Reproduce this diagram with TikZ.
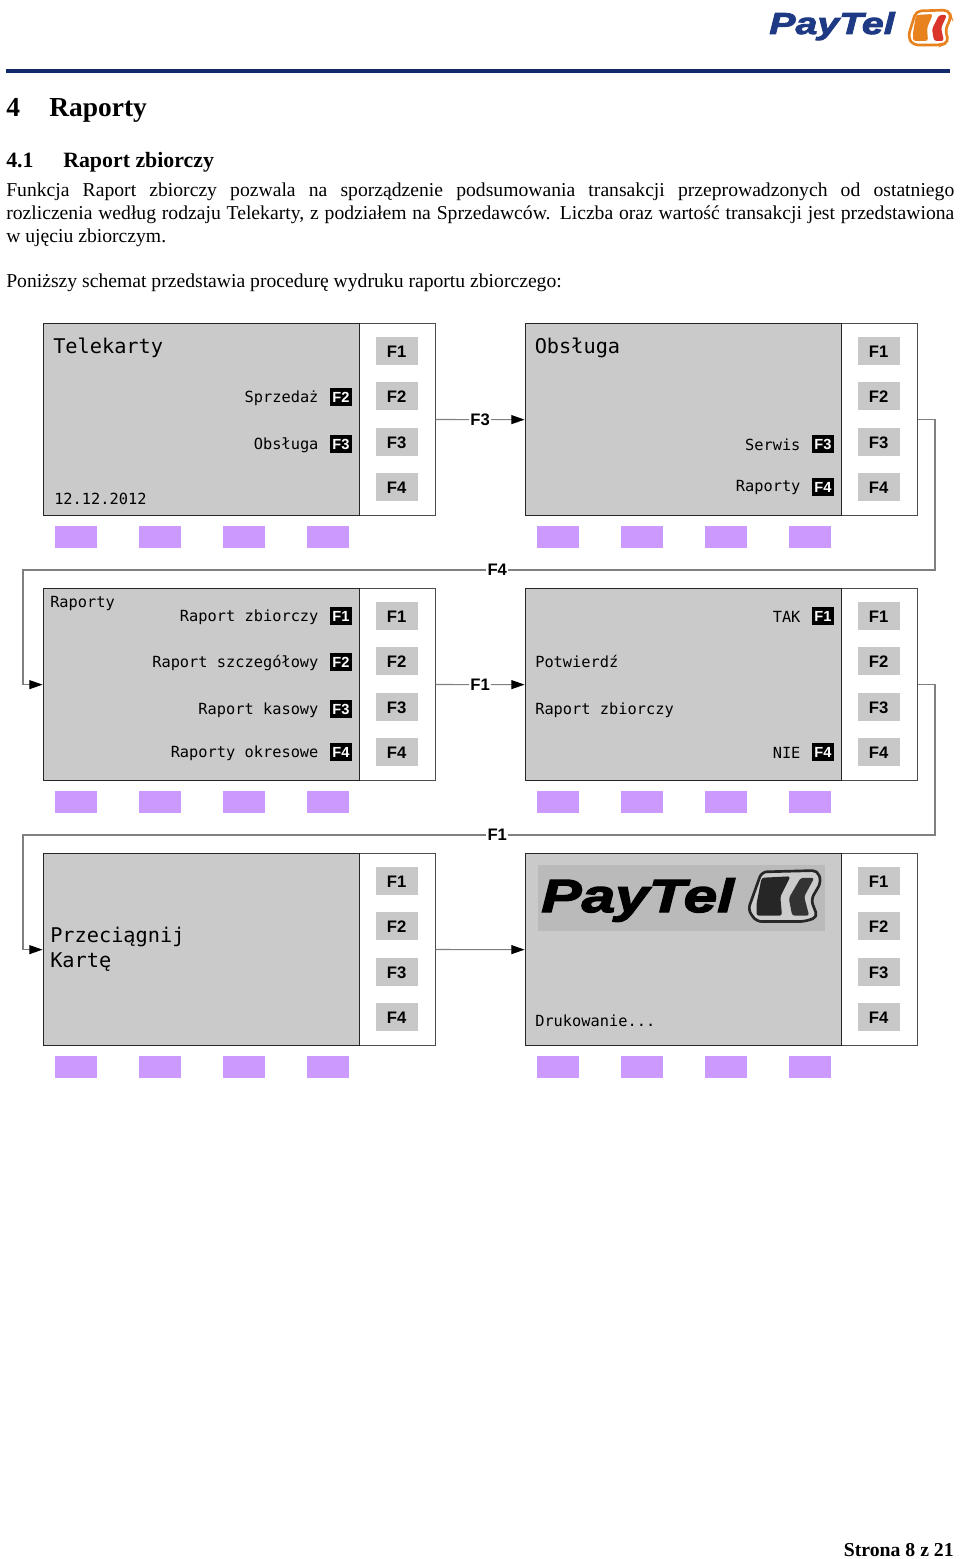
\documentclass[tikz,border=0pt]{standalone}
\usepackage{fontspec}
\setmainfont{Liberation Serif}
\setsansfont{Liberation Sans}
\setmonofont{DejaVu Sans Mono}
\newfontfamily\logofont[FakeBold=3,FakeStretch=1.3]{Liberation Sans}
\usetikzlibrary{positioning,arrows.meta}
\usepackage{xcolor}
\definecolor{navyrule}{HTML}{12296B}
\definecolor{screengray}{HTML}{CACACA}
\definecolor{buttongray}{HTML}{C8C8C8}
\definecolor{padlilac}{HTML}{CC99FF}
\definecolor{logoblue}{HTML}{1F3A85}
\definecolor{logoorange}{HTML}{E8821E}
\definecolor{logored}{HTML}{D9352A}
\tikzset{
  framebox/.style={draw=black!70,line width=.8pt,fill=white,anchor=north west,minimum width=294pt,minimum height=144.25pt,inner sep=0pt},
  screenbox/.style={draw=black!85,line width=1pt,fill=screengray,anchor=north west,minimum width=237pt,minimum height=144.25pt,inner sep=0pt},
  fbutton/.style={fill=buttongray,minimum width=31.5pt,minimum height=21pt,inner sep=0pt,text height=9.6pt,text depth=0pt,font=\sffamily\bfseries\fontsize{12.5}{14}\selectfont},
  softpad/.style={fill=padlilac,minimum width=32pt,minimum height=16.5pt,inner sep=0pt},
  keybox/.style={fill=black,text=white,minimum width=16.5pt,minimum height=13pt,inner sep=0pt,font=\sffamily\bfseries\fontsize{11}{12}\selectfont},
  menutext/.style={inner sep=0pt,font=\ttfamily\fontsize{11.5}{13}\selectfont},
  bigtext/.style={inner sep=0pt,anchor=base west,font=\ttfamily\fontsize{15.2}{18.7}\selectfont},
  smalltext/.style={inner sep=0pt,anchor=base west,font=\ttfamily\fontsize{11.5}{13}\selectfont},
  link/.style={draw=black!50,line width=.8pt,-{Stealth[black,length=10pt,width=6.75pt,inset=0pt]}},
  linklabel/.style={fill=white,inner sep=1pt,font=\sffamily\bfseries\fontsize{12.5}{14}\selectfont},
}
\newcommand{\terminal}[3]{%
  \node[framebox] (#1frame) at (#2,#3) {};
  \node[screenbox] (#1) at (#2,#3) {};
  \foreach \fk/\dy in {1/28,2/73,3/119,4/164}
    \node[fbutton] (#1f\fk) at (#2+354,#3+\dy) {F\fk};
  \foreach \pd/\dx in {1/33.5,2/117.5,3/201.5,4/285.5}
    \node[softpad] (#1pad\pd) at (#2+\dx,#3+214) {};
}
\newcommand{\logomark}[7]{%
  \begin{scope}[shift={(#1,#2)},xscale=#3,yscale=#4]
    \draw[draw=#5,line width=2pt,fill=#7,rounded corners=4pt] (8,2) -- (41,1) -- (43,9) -- (37,21) -- (41,33) -- (33,36) -- (5,36) -- (0,28) -- cycle;
    \fill[#5,rounded corners=2pt] (8,6) -- (25,5) -- (19,19) -- (20,32) -- (5,32) -- (5,24) -- cycle;
    \fill[#6,rounded corners=2pt] (31,6) -- (39,6) -- (33,19) -- (36,32) -- (26,32) -- (24,20) -- cycle;
  \end{scope}
}
\begin{document}
\begin{tikzpicture}[x=.75pt,y=-.75pt]
\useasboundingbox (0,0) rectangle (960,1559);
\node[inner sep=0pt,anchor=base west,text=logoblue,font=\logofont\bfseries\itshape\fontsize{22.7}{24}\selectfont] (logotop) at (769,34) {PayTel};
\logomark{908}{9}{1}{1}{logoorange}{logored}{white}
\draw[navyrule,line width=2.3pt] (6,71) -- (950,71);

\node[inner sep=0pt,anchor=base west,font=\bfseries\fontsize{20.6}{22}\selectfont] (chapnum) at (6,117) {4};
\node[inner sep=0pt,anchor=base west,font=\bfseries\fontsize{20.6}{22}\selectfont] (chaptitle) at (49,117) {Raporty};
\node[inner sep=0pt,anchor=base west,font=\bfseries\fontsize{16.4}{18}\selectfont] (secnum) at (6,167) {4.1};
\node[inner sep=0pt,anchor=base west,font=\bfseries\fontsize{16.4}{18}\selectfont] (sectitle) at (63,167) {Raport zbiorczy};
\node[inner sep=0pt,anchor=north west,text width=711pt,align=justify,font=\fontsize{14.74}{17}\selectfont] (intro) at (6,183) {Funkcja Raport zbiorczy pozwala na sporządzenie podsumowania transakcji przeprowadzonych od ostatniego\linebreak rozliczenia według rodzaju Telekarty, z podziałem na Sprzedawców. Liczba oraz wartość transakcji jest przedstawiona\linebreak w ujęciu zbiorczym.};
\node[inner sep=0pt,anchor=base west,font=\fontsize{14.74}{17}\selectfont] (lead) at (6,287) {Poniższy schemat przedstawia procedurę wydruku raportu zbiorczego:};

\terminal{tele}{42.6}{322.8}
\terminal{obsl}{524.6}{322.8}
\terminal{rapo}{42.6}{587.8}
\terminal{potw}{524.6}{587.8}
\terminal{card}{42.6}{852.8}
\terminal{druk}{524.6}{852.8}

\foreach \nm/\lbl/\key/\x/\y in {a/Sprzedaż/F2/341/397,b/Obsługa/F3/341/444,c/Serwis/F3/823/444,d/Raporty/F4/823/487,e/Raport zbiorczy/F1/341/616,f/Raport szczegółowy/F2/341/662,g/Raport kasowy/F3/341/709,h/Raporty okresowe/F4/341/752,i/TAK/F1/823/616,j/NIE/F4/823/752}{
  \node[keybox] (key\nm) at (\x,\y) {\key};
  \node[menutext,left=8.25pt of key\nm,yshift=-.75pt] (item\nm) {\lbl};
}

\node[bigtext] (teletitle) at (53,353) {Telekarty};
\node[smalltext] (teledate) at (54,504) {12.12.2012};
\node[bigtext] (obsltitle) at (534.5,353) {Obsługa};
\node[smalltext] (rapotitle) at (50,607) {Raporty};
\node[smalltext] (potwtitle) at (535,667) {Potwierdź};
\node[smalltext] (potwsub) at (535,714) {Raport zbiorczy};
\node[bigtext,align=left,anchor=north west] (cardtext) at (50,927) {Przeciągnij\\Kartę};
\node[smalltext] (druktext) at (535,1026) {Drukowanie...};

\fill[black!27] (538,865) rectangle (825,931);
\node[inner sep=0pt,anchor=base west,text=black,font=\logofont\bfseries\itshape\fontsize{34.9}{36}\selectfont] (logoscreen) at (541,912) {PayTel};
\logomark{748}{869}{1.7}{1.46}{black!85}{black!80}{black!20}

\coordinate (turnar) at (935,570);
\coordinate (turnal) at (23,570);
\coordinate (turnbr) at (935,835);
\coordinate (turnbl) at (23,835);
\draw[link] (teleframe.east) -- node[linklabel,midway] (lblftri) {F3} (obsl.west);
\draw[link] (obslframe.east) -| (turnar) -- node[linklabel,pos=.48] (lblffour) {F4} (turnal) |- (rapo.west);
\draw[link] (rapoframe.east) -- node[linklabel,midway] (lblfone) {F1} (potw.west);
\draw[link] (potwframe.east) -| (turnbr) -- node[linklabel,pos=.48] (lblfoneb) {F1} (turnbl) |- (card.west);
\draw[link] (cardframe.east) -- (druk.west);

\node[inner sep=0pt,anchor=base east,font=\bfseries\fontsize{14.8}{17}\selectfont] (footer) at (954,1556) {Strona 8 z 21};
\end{tikzpicture}
\end{document}
